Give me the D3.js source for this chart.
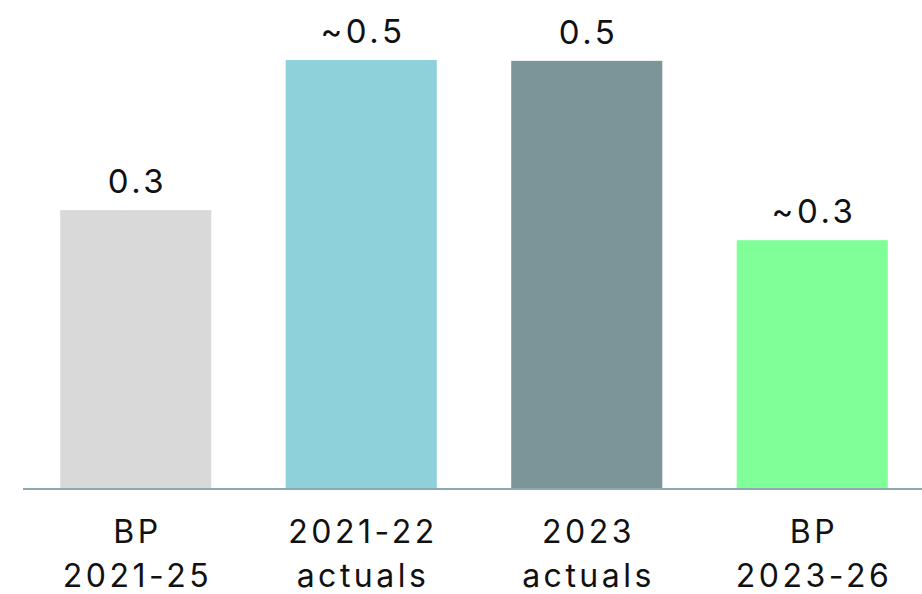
<!DOCTYPE html>
<html>
<head>
<meta charset="utf-8">
<script src="https://cdn.jsdelivr.net/npm/d3@7"></script>
<style>
  html, body { margin: 0; padding: 0; background: #fff; }
  svg text { font-family: "Inter", "Noto Sans", sans-serif; fill: #111; }
</style>
</head>
<body>
<svg id="chart" width="922" height="594"></svg>
<script>
// Bar categories (two-line labels) and values
const categories = ["BP 2021-25", "2021-22 actuals", "2023 actuals", "BP 2023-26"];
const labelLines = [["BP", "2021-25"], ["2021-22", "actuals"], ["2023", "actuals"], ["BP", "2023-26"]];
const values = [0.325, 0.5, 0.499, 0.29];
const valuePrefix = ["", "~", "", "~"];
const barColors = ["#d9d9d9", "#8fd1db", "#7b9598", "#80ff99"];

const svg = d3.select("#chart");
const baseY = 489;
const spacing = 3.5;

const x = d3.scaleBand()
  .domain(categories)
  .range([23, 925])
  .paddingInner(0.33)
  .paddingOuter(0.165);

const y = d3.scaleLinear()
  .domain([0, 0.5])
  .range([baseY, 60]);

const fmt = d3.format(".1f");

svg.selectAll("rect.bar")
  .data(categories)
  .join("rect")
  .attr("class", "bar")
  .attr("x", d => x(d))
  .attr("width", x.bandwidth())
  .attr("y", (d, i) => y(values[i]))
  .attr("height", (d, i) => y(0) - y(values[i]))
  .attr("fill", (d, i) => barColors[i]);

// Baseline
svg.append("line")
  .attr("x1", 23).attr("x2", 922)
  .attr("y1", baseY).attr("y2", baseY)
  .attr("stroke", "#8eaab0")
  .attr("stroke-width", 2);

// Value labels
svg.selectAll("text.value")
  .data(categories)
  .join("text")
  .attr("class", "value")
  .attr("x", d => x(d) + x.bandwidth() / 2 + spacing / 2)
  .attr("y", (d, i) => y(values[i]) - 17)
  .attr("text-anchor", "middle")
  .attr("font-size", 33)
  .attr("letter-spacing", spacing)
  .text((d, i) => valuePrefix[i] + fmt(values[i]));

// Category labels
const cat = svg.selectAll("text.cat")
  .data(categories)
  .join("text")
  .attr("class", "cat")
  .attr("text-anchor", "middle")
  .attr("font-size", 32)
  .attr("letter-spacing", spacing);

cat.selectAll("tspan")
  .data((d, i) => labelLines[i].map(t => ({ t, c: d })))
  .join("tspan")
  .attr("x", d => x(d.c) + x.bandwidth() / 2 + spacing / 2)
  .attr("y", (d, j) => 543 + j * 44)
  .text(d => d.t);
</script>
</body>
</html>
